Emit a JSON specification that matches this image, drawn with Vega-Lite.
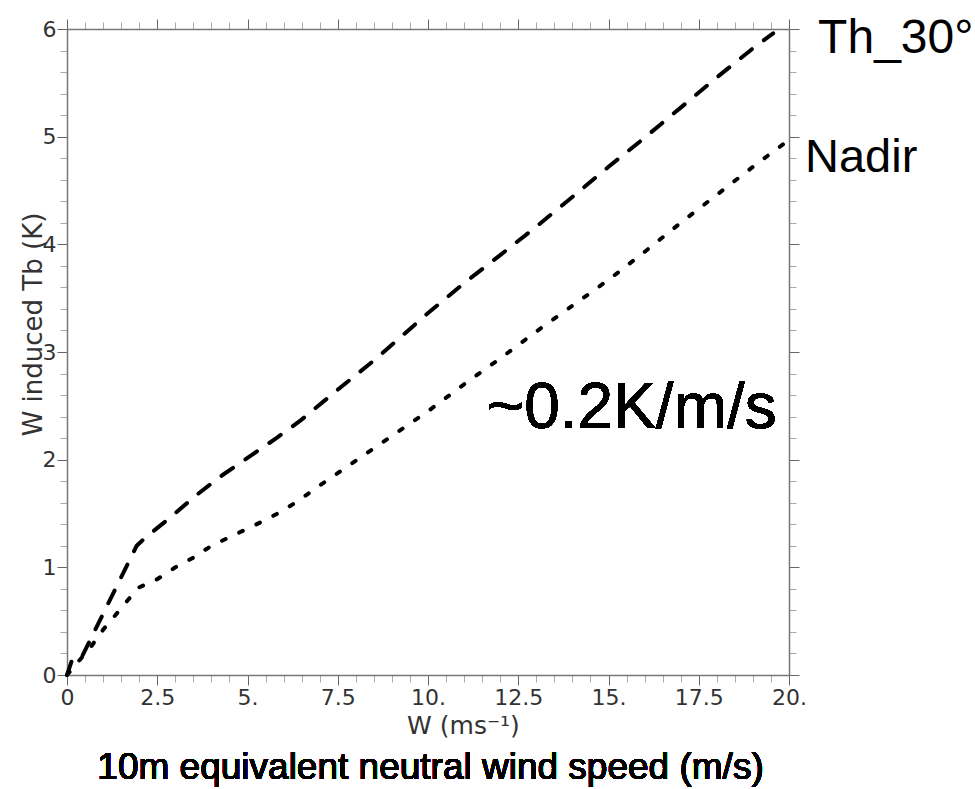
{
  "$schema": "https://vega.github.io/schema/vega-lite/v6.json",
  "autosize": {"type": "none"},
  "width": 722,
  "height": 646,
  "padding": {"left": 67, "top": 29, "right": 186, "bottom": 114},
  "background": "white",
  "config": {"view": {"stroke": null}, "axis": {"grid": false}},
  "datasets": {
    "lines": [
      {"series": "Th_30°", "w": 0, "tb": 0},
      {"series": "Th_30°", "w": 0.15, "tb": 0.15},
      {"series": "Th_30°", "w": 0.4, "tb": 0.16},
      {"series": "Th_30°", "w": 1.93, "tb": 1.2},
      {"series": "Th_30°", "w": 2.15, "tb": 1.27},
      {"series": "Th_30°", "w": 2.85, "tb": 1.46},
      {"series": "Th_30°", "w": 3.58, "tb": 1.67},
      {"series": "Th_30°", "w": 4.32, "tb": 1.86},
      {"series": "Th_30°", "w": 5.06, "tb": 2.03},
      {"series": "Th_30°", "w": 5.8, "tb": 2.2},
      {"series": "Th_30°", "w": 6.49, "tb": 2.37},
      {"series": "Th_30°", "w": 7.5, "tb": 2.65},
      {"series": "Th_30°", "w": 8.57, "tb": 2.94},
      {"series": "Th_30°", "w": 9.96, "tb": 3.35},
      {"series": "Th_30°", "w": 11, "tb": 3.64},
      {"series": "Th_30°", "w": 12, "tb": 3.9},
      {"series": "Th_30°", "w": 12.91, "tb": 4.14},
      {"series": "Th_30°", "w": 14, "tb": 4.44},
      {"series": "Th_30°", "w": 15, "tb": 4.72},
      {"series": "Th_30°", "w": 16, "tb": 4.99},
      {"series": "Th_30°", "w": 17, "tb": 5.27},
      {"series": "Th_30°", "w": 18, "tb": 5.55},
      {"series": "Th_30°", "w": 19, "tb": 5.82},
      {"series": "Th_30°", "w": 19.56, "tb": 5.96},
      {"series": "Nadir", "w": 0, "tb": 0},
      {"series": "Nadir", "w": 0.68, "tb": 0.27},
      {"series": "Nadir", "w": 1, "tb": 0.42},
      {"series": "Nadir", "w": 1.5, "tb": 0.62},
      {"series": "Nadir", "w": 1.97, "tb": 0.81},
      {"series": "Nadir", "w": 2.5, "tb": 0.89},
      {"series": "Nadir", "w": 3, "tb": 1.0},
      {"series": "Nadir", "w": 3.5, "tb": 1.09},
      {"series": "Nadir", "w": 4, "tb": 1.2},
      {"series": "Nadir", "w": 4.5, "tb": 1.28},
      {"series": "Nadir", "w": 5, "tb": 1.36},
      {"series": "Nadir", "w": 5.5, "tb": 1.44},
      {"series": "Nadir", "w": 6, "tb": 1.53},
      {"series": "Nadir", "w": 6.5, "tb": 1.64},
      {"series": "Nadir", "w": 7, "tb": 1.76},
      {"series": "Nadir", "w": 8, "tb": 1.99},
      {"series": "Nadir", "w": 9, "tb": 2.22},
      {"series": "Nadir", "w": 10, "tb": 2.45},
      {"series": "Nadir", "w": 11, "tb": 2.7},
      {"series": "Nadir", "w": 12, "tb": 2.94},
      {"series": "Nadir", "w": 13, "tb": 3.19},
      {"series": "Nadir", "w": 14, "tb": 3.43},
      {"series": "Nadir", "w": 15, "tb": 3.67},
      {"series": "Nadir", "w": 16, "tb": 3.93},
      {"series": "Nadir", "w": 17, "tb": 4.2},
      {"series": "Nadir", "w": 18, "tb": 4.46},
      {"series": "Nadir", "w": 19, "tb": 4.72},
      {"series": "Nadir", "w": 20, "tb": 4.97}
    ]
  },
  "data": {"name": "lines"},
  "layer": [
    {
      "mark": {"type": "line", "strokeWidth": 4, "strokeCap": "round", "color": "black"},
      "encoding": {
        "x": {
          "field": "w", "type": "quantitative",
          "scale": {"domain": [0, 20], "nice": false, "zero": false},
          "axis": {
            "orient": "bottom",
            "values": [0,0.5,1,1.5,2,2.5,3,3.5,4,4.5,5,5.5,6,6.5,7,7.5,8,8.5,9,9.5,10,10.5,11,11.5,12,12.5,13,13.5,14,14.5,15,15.5,16,16.5,17,17.5,18,18.5,19,19.5,20],
            "labelExpr": "datum.value % 2.5 !== 0 ? '' : (datum.value === 0 ? '0' : (datum.value % 1 === 0 ? datum.value + '.' : '' + datum.value))",
            "labelFont": "DejaVu Sans", "labelFontSize": 22, "labelColor": "#333",
            "labelPadding": 2, "labelOverlap": false, "labelFlush": false, "labelBound": false,
            "tickSize": {"condition": {"test": "datum.value % 2.5 === 0", "value": 10}, "value": 7},
            "tickColor": {"condition": {"test": "datum.value % 2.5 === 0", "value": "#666"}, "value": "#aaa"},
            "tickWidth": 1,
            "domainColor": "#777", "domainWidth": 1.5,
            "title": "W (ms⁻¹)",
            "titleFont": "DejaVu Sans", "titleFontSize": 25, "titleFontWeight": "normal", "titleColor": "#333",
            "titleX": 396, "titleY": 58, "titleBaseline": "alphabetic", "titleAlign": "center"
          }
        },
        "y": {
          "field": "tb", "type": "quantitative",
          "scale": {"domain": [0, 6], "nice": false, "zero": false},
          "axis": {
            "orient": "left",
            "values": [0,0.2,0.4,0.6,0.8,1,1.2,1.4,1.6,1.8,2,2.2,2.4,2.6,2.8,3,3.2,3.4,3.6,3.8,4,4.2,4.4,4.6,4.8,5,5.2,5.4,5.6,5.8,6],
            "labelExpr": "datum.value % 1 === 0 ? '' + datum.value : ''",
            "labelFont": "DejaVu Sans", "labelFontSize": 22, "labelColor": "#333",
            "labelPadding": 1, "labelOverlap": false, "labelFlush": false, "labelBound": false,
            "tickSize": {"condition": {"test": "datum.value % 1 === 0", "value": 10}, "value": 7},
            "tickColor": {"condition": {"test": "datum.value % 1 === 0", "value": "#666"}, "value": "#aaa"},
            "tickWidth": 1,
            "domainColor": "#777", "domainWidth": 1.5,
            "title": "W induced Tb (K)",
            "titleFont": "DejaVu Sans", "titleFontSize": 26, "titleFontWeight": "normal", "titleColor": "#333",
            "titleX": -26, "titleY": 295, "titleBaseline": "alphabetic", "titleAlign": "center", "titleAngle": -90
          }
        },
        "strokeDash": {
          "field": "series", "type": "nominal",
          "scale": {"domain": ["Th_30°", "Nadir"], "range": [[14, 15], [4, 15]]},
          "legend": null
        }
      }
    },
    {
      "mark": {"type": "point", "opacity": 0},
      "encoding": {
        "x": {
          "field": "w", "type": "quantitative",
          "axis": {
            "orient": "top",
            "values": [0,0.5,1,1.5,2,2.5,3,3.5,4,4.5,5,5.5,6,6.5,7,7.5,8,8.5,9,9.5,10,10.5,11,11.5,12,12.5,13,13.5,14,14.5,15,15.5,16,16.5,17,17.5,18,18.5,19,19.5,20],
            "labels": false,
            "tickSize": {"condition": {"test": "datum.value % 2.5 === 0", "value": 10}, "value": 7},
            "tickColor": {"condition": {"test": "datum.value % 2.5 === 0", "value": "#666"}, "value": "#aaa"},
            "tickWidth": 1,
            "domainColor": "#777", "domainWidth": 1.5,
            "title": null
          }
        },
        "y": {
          "field": "tb", "type": "quantitative",
          "axis": {
            "orient": "right",
            "values": [0,0.2,0.4,0.6,0.8,1,1.2,1.4,1.6,1.8,2,2.2,2.4,2.6,2.8,3,3.2,3.4,3.6,3.8,4,4.2,4.4,4.6,4.8,5,5.2,5.4,5.6,5.8,6],
            "labels": false,
            "tickSize": {"condition": {"test": "datum.value % 1 === 0", "value": 10}, "value": 7},
            "tickColor": {"condition": {"test": "datum.value % 1 === 0", "value": "#666"}, "value": "#aaa"},
            "tickWidth": 1,
            "domainColor": "#777", "domainWidth": 1.5,
            "title": null
          }
        }
      }
    },
    {
      "transform": [{"filter": "datum.series === 'Th_30°' && datum.w === 19.56"}],
      "mark": {"type": "text", "align": "left", "baseline": "alphabetic", "dx": 45, "dy": 19.5, "fontSize": 48, "font": "Liberation Sans", "color": "black"},
      "encoding": {
        "x": {"field": "w", "type": "quantitative", "axis": null},
        "y": {"field": "tb", "type": "quantitative", "axis": null},
        "text": {"field": "series"}
      }
    },
    {
      "transform": [{"filter": "datum.series === 'Nadir' && datum.w === 20"}],
      "mark": {"type": "text", "align": "left", "baseline": "alphabetic", "dx": 16, "dy": 32, "fontSize": 47, "font": "Liberation Sans", "color": "black"},
      "encoding": {
        "x": {"field": "w", "type": "quantitative", "axis": null},
        "y": {"field": "tb", "type": "quantitative", "axis": null},
        "text": {"field": "series"}
      }
    },
    {
      "mark": {"type": "text", "align": "left", "baseline": "alphabetic", "fontSize": 64, "font": "Liberation Sans", "color": "black", "text": "~0.2K/m/s"},
      "encoding": {
        "x": {"datum": 11.63, "type": "quantitative", "axis": null},
        "y": {"datum": 2.29, "type": "quantitative", "axis": null}
      }
    },
    {
      "mark": {"type": "text", "align": "center", "baseline": "alphabetic", "fontSize": 37, "font": "Liberation Sans", "color": "black", "text": "10m equivalent neutral wind speed (m/s)"},
      "encoding": {
        "x": {"datum": 10.07, "type": "quantitative", "axis": null},
        "y": {"datum": -0.967, "type": "quantitative", "axis": null}
      }
    }
  ],
  "resolve": {"axis": {"x": "independent", "y": "independent"}}
}
